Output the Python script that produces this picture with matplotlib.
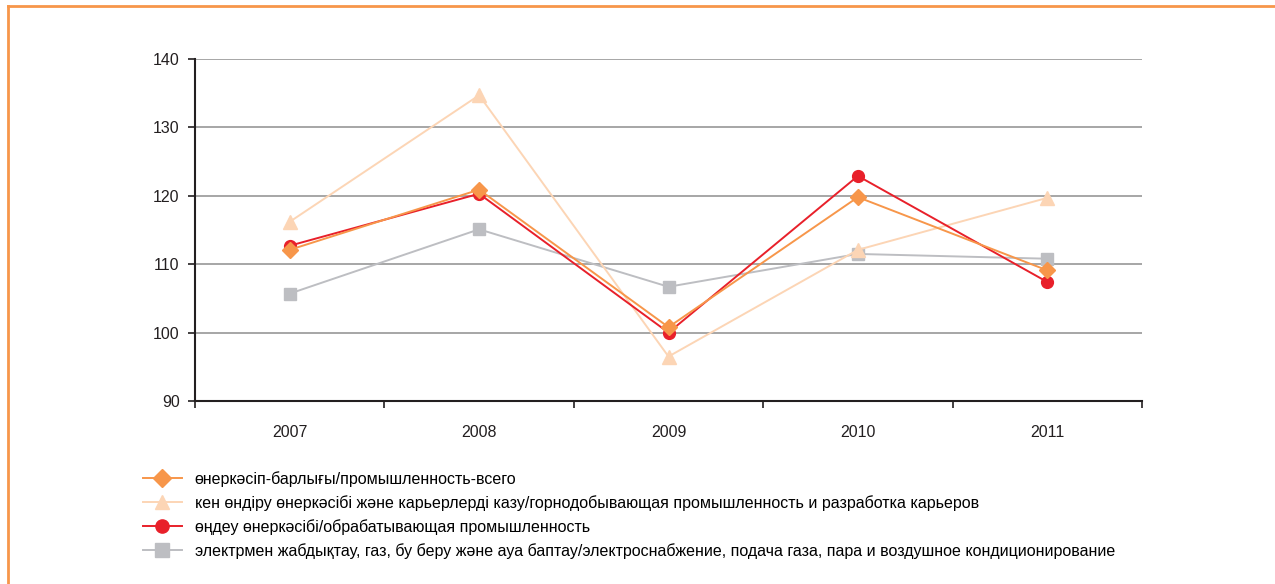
import matplotlib
matplotlib.use("Agg")
import matplotlib.pyplot as plt
from matplotlib.lines import Line2D

years = ["2007", "2008", "2009", "2010", "2011"]
total = [112.1, 120.9, 100.8, 119.8, 109.1]
mining = [116.2, 134.7, 96.5, 112.1, 119.7]
manuf = [112.7, 120.3, 100.0, 122.9, 107.4]
electr = [105.7, 115.1, 106.7, 111.5, 110.8]

labels = [
    "өнеркәсіп-барлығы/промышленность-всего",
    "кен өндіру өнеркәсібі және карьерлерді казу/горнодобывающая промышленность и разработка карьеров",
    "өңдеу өнеркәсібі/обрабатывающая промышленность",
    "электрмен жабдықтау, газ, бу беру және ауа баптау/электроснабжение, подача газа, пара и воздушное кондиционирование",
]

plt.rcParams['font.family'] = ['Liberation Sans', 'DejaVu Sans']

fig = plt.figure(figsize=(12.75, 5.84), dpi=100)
W, H = 1275, 584
ax = fig.add_axes([195 / W, 1 - 401 / H, (1142 - 195) / W, (401 - 59) / H])

x = list(range(len(years)))
c_total = "#F7964A"
c_mining = "#FCD5B5"
c_manuf = "#E8202A"
c_elec = "#BDBEC2"

ax.plot(x, electr, color=c_elec, lw=1.4, marker="s", ms=8.5, zorder=3)
ax.plot(x, mining, color=c_mining, lw=1.4, marker="^", ms=9.5, zorder=4)
ax.plot(x, manuf, color=c_manuf, lw=1.4, marker="o", ms=8.5, zorder=5)
ax.plot(x, total, color=c_total, lw=1.4, marker="D", ms=8.5, zorder=6)

ax.set_xlim(-0.48, 4.5)
ax.set_ylim(90, 140)
ax.set_yticks([90, 100, 110, 120, 130, 140])
ax.set_xticks(x)
ax.set_xticklabels(years)
ax.set_xticks([-0.5, 0.5, 1.5, 2.5, 3.5, 4.5], minor=True)
ax.tick_params(axis="x", which="major", length=0, pad=17, labelsize=11.5, colors="#231f20")
ax.tick_params(axis="x", which="minor", length=5, width=1.2, direction="out", color="#231f20")
ax.tick_params(axis="y", length=5, width=1.2, direction="out", labelsize=11.5, pad=6, colors="#231f20")
ax.grid(axis="y", color="#A6A6A6", lw=1.4)
ax.set_axisbelow(True)
for s in ["top", "right"]:
    ax.spines[s].set_visible(False)
for s in ["left", "bottom"]:
    ax.spines[s].set_color("#231f20")
    ax.spines[s].set_linewidth(1.5)
    ax.spines[s].set_zorder(2)

handles = [
    Line2D([], [], color=c_total, lw=1.4, marker="D", ms=9.5),
    Line2D([], [], color=c_mining, lw=1.4, marker="^", ms=10),
    Line2D([], [], color=c_manuf, lw=1.4, marker="o", ms=9.5),
    Line2D([], [], color=c_elec, lw=1.4, marker="s", ms=9.5),
]
fig.legend(handles, labels, loc="upper left", bbox_to_anchor=(143 / W, 1 - 471 / H),
           frameon=False, fontsize=11.5, handlelength=2.44, handletextpad=0.8,
           labelspacing=0.51, borderaxespad=0, borderpad=0)

# orange frame
fig.add_artist(Line2D([8 / W, 1], [1 - 6 / H, 1 - 6 / H], color="#F7964A", lw=2, transform=fig.transFigure))
fig.add_artist(Line2D([8 / W, 8 / W], [0, 1 - 6 / H], color="#F7964A", lw=2, transform=fig.transFigure))

fig.savefig("out.png", dpi=100)
